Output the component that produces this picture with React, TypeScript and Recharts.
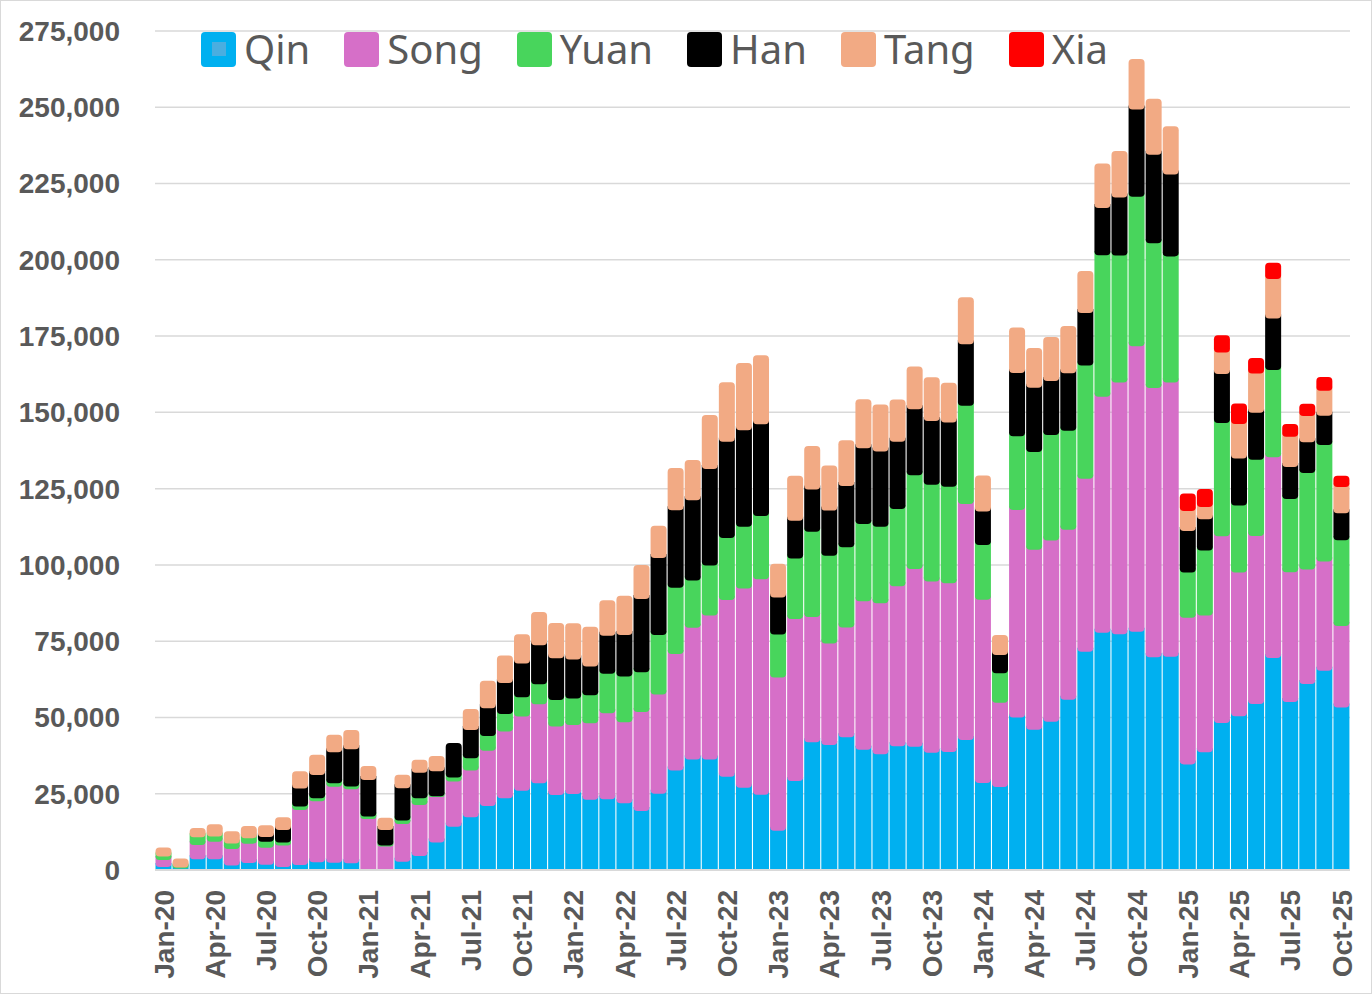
import { BarChart, Bar, XAxis, YAxis, CartesianGrid, Legend } from "recharts";

const months = [
  "Jan-20", "Feb-20", "Mar-20", "Apr-20", "May-20", "Jun-20", "Jul-20", "Aug-20", "Sep-20", "Oct-20", "Nov-20", "Dec-20",
  "Jan-21", "Feb-21", "Mar-21", "Apr-21", "May-21", "Jun-21", "Jul-21", "Aug-21", "Sep-21", "Oct-21", "Nov-21", "Dec-21",
  "Jan-22", "Feb-22", "Mar-22", "Apr-22", "May-22", "Jun-22", "Jul-22", "Aug-22", "Sep-22", "Oct-22", "Nov-22", "Dec-22",
  "Jan-23", "Feb-23", "Mar-23", "Apr-23", "May-23", "Jun-23", "Jul-23", "Aug-23", "Sep-23", "Oct-23", "Nov-23", "Dec-23",
  "Jan-24", "Feb-24", "Mar-24", "Apr-24", "May-24", "Jun-24", "Jul-24", "Aug-24", "Sep-24", "Oct-24", "Nov-24", "Dec-24",
  "Jan-25", "Feb-25", "Mar-25", "Apr-25", "May-25", "Jun-25", "Jul-25", "Aug-25", "Sep-25", "Oct-25",
];

const qin = [
  1000, 500, 3500, 3500, 1500, 2300, 1700, 1000, 1600, 2500, 2400, 2200,
  0, 0, 2700, 4600, 9000, 14200, 17300, 21000, 23500, 26000, 28400, 24600,
  24900, 23000, 23200, 21900, 19300, 25000, 32600, 36200, 36200, 30600, 27000, 24700,
  12900, 29200, 41900, 41000, 43500, 39400, 37900, 40600, 40400, 38400, 38700, 42600,
  28500, 27200, 50000, 46000, 48600, 55800, 71500, 77800, 77300, 78100, 69700, 69900,
  34600, 38600, 48200, 50400, 54400, 69500, 55100, 61000, 65300, 53300,
];

const song = [
  2300, 0, 4700, 5800, 5400, 6300, 5600, 7000, 18100, 20000, 24900, 24300,
  16700, 7700, 12400, 16700, 14900, 14800, 15300, 18100, 21900, 24300, 25900, 22400,
  22600, 25100, 28200, 26500, 32500, 32500, 38200, 43200, 47200, 57900, 65300, 70600,
  50200, 53100, 41000, 33200, 36000, 48700, 49500, 52400, 58300, 56200, 55300, 77400,
  60100, 27600, 68000, 59000, 59400, 55700, 56700, 77300, 82500, 93600, 88300, 89900,
  48100, 44800, 61200, 47100, 55100, 65800, 42500, 37500, 35800, 26700,
];

const yuan = [
  1100, 300, 2500, 1700, 1800, 1800, 2000, 1000, 1100, 1000, 1100, 900,
  800, 300, 1100, 2200, 300, 1300, 4000, 4800, 5700, 6300, 6600, 8700,
  8700, 9200, 12900, 15000, 13000, 19500, 21700, 15500, 16400, 20300, 20200, 20700,
  14100, 19800, 28000, 28800, 26300, 25300, 25100, 25300, 30700, 31700, 31600, 32200,
  17900, 9700, 24200, 32000, 34600, 32500, 37200, 46400, 41600, 49000, 47400, 41300,
  14800, 21300, 37100, 22000, 25000, 28600, 24000, 31600, 38200, 28100,
];

const han = [
  0, 0, 0, 0, 0, 0, 1500, 4100, 5900, 7600, 10200, 12200,
  12000, 5100, 10600, 8400, 8200, 11300, 9300, 9100, 10200, 11100, 12800, 13700,
  12800, 9400, 12500, 13600, 24000, 25300, 25400, 26300, 31600, 31600, 31600, 30100,
  12100, 12400, 13800, 14800, 20100, 24800, 24700, 22100, 21600, 20900, 21100, 20100,
  11000, 6000, 20700, 21100, 17700, 18800, 17200, 15500, 19000, 28600, 29000, 26900,
  13600, 10300, 16100, 15400, 15400, 16900, 10500, 10100, 9600, 8800,
];

const tang = [
  3000, 3000, 3100, 4000, 4000, 4000, 3900, 4200, 5700, 6700, 5700, 6300,
  4600, 4000, 4400, 4200, 5000, 0, 6900, 9000, 9000, 9600, 10900, 11600,
  11900, 13000, 11600, 12900, 11200, 10500, 13900, 13200, 17700, 19500, 22100, 22600,
  11100, 14700, 14300, 14800, 15000, 16100, 15400, 13800, 14000, 14300, 13000, 15400,
  11800, 6500, 14900, 13000, 14400, 15500, 13700, 14600, 15300, 16500, 18400, 15800,
  6600, 4000, 7000, 11300, 12800, 12900, 9900, 8600, 8200, 8600,
];

const xia = [
  0, 0, 0, 0, 0, 0, 0, 0, 0, 0, 0, 0,
  0, 0, 0, 0, 0, 0, 0, 0, 0, 0, 0, 0,
  0, 0, 0, 0, 0, 0, 0, 0, 0, 0, 0, 0,
  0, 0, 0, 0, 0, 0, 0, 0, 0, 0, 0, 0,
  0, 0, 0, 0, 0, 0, 0, 0, 0, 0, 0, 0,
  5700, 5900, 5700, 6700, 5100, 5300, 4200, 4000, 4500, 3700,
];

const seriesNames = ["Qin", "Song", "Yuan", "Han", "Tang", "Xia"];
const seriesColors = ["#00B0F0", "#D66FC8", "#48D55C", "#000000", "#F2AA84", "#FF0000"];
const seriesValues = [qin, song, yuan, han, tang, xia];

const yTicks = [0, 25000, 50000, 75000, 100000, 125000, 150000, 175000, 200000, 225000, 250000, 275000];

const data = months.map((month, i) => {
  const row: Record<string, string | number> = { month };
  seriesNames.forEach((name, k) => {
    row[name] = seriesValues[k][i];
  });
  return row;
});

const axisFont = "'Liberation Sans', Arial, sans-serif";
const textGray = "#595959";

function roundRect(x: number, y: number, w: number, h: number, rt: number, rb: number) {
  const a = Math.min(rt, w / 2, h / 2);
  const b = Math.min(rb, w / 2, h / 2);
  return (
    `M${x},${y + a} Q${x},${y} ${x + a},${y} L${x + w - a},${y} Q${x + w},${y} ${x + w},${y + a} ` +
    `L${x + w},${y + h - b} Q${x + w},${y + h} ${x + w - b},${y + h} L${x + b},${y + h} ` +
    `Q${x},${y + h} ${x},${y + h - b} Z`
  );
}

// lower segment reaches a bit up under the next one, so the rounded bottom
// corners of the upper segment show the colour below instead of white
const makeShape = (k: number) => (props: any) => {
  const { x, y, width, height, fill } = props;
  const idx = props.index ?? months.indexOf(props.payload?.month);
  const v = seriesValues[k][idx];
  if (!v || !height || height <= 0) return <g />;
  let below = 0;
  let above = 0;
  seriesValues.forEach((arr, j) => {
    if (j < k) below += arr[idx];
    if (j > k) above += arr[idx];
  });
  const pxPer = height / v;
  const r = 4;
  const ext = above > 0 ? Math.min(r, above * pxPer) : 0;
  return (
    <path
      d={roundRect(x, y - ext, width, height + ext, above > 0 ? 0 : r, below > 0 ? r : 0)}
      fill={fill}
    />
  );
};

const XTick = ({ x, y, payload }: any) => (
  <text
    transform={`translate(${x},${y}) rotate(-90)`}
    dy="0.36em"
    textAnchor="end"
    fill={textGray}
    fontSize={28}
    fontWeight="bold"
    fontFamily={axisFont}
  >
    {payload.value}
  </text>
);

const LegendBox = () => (
  <div style={{ display: "flex", alignItems: "center", gap: 34, fontFamily: "'Noto Sans', sans-serif", fontSize: 40, color: textGray }}>
    {seriesNames.map((name, k) => (
      <div key={name} style={{ display: "flex", alignItems: "center" }}>
        <div
          style={{
            width: 35,
            height: 35,
            borderRadius: 4,
            background: seriesColors[k],
            marginRight: 8,
            display: "flex",
            alignItems: "center",
            justifyContent: "center",
          }}
        >
          {k === 0 && <div style={{ width: 14, height: 14, background: "#4AAEE0" }} />}
        </div>
        <span style={{ lineHeight: "38px" }}>{name}</span>
      </div>
    ))}
  </div>
);

export default function App() {
  return (
    <div style={{ position: "absolute", left: 0, top: 0, width: 1372, height: 994, boxSizing: "border-box", border: "1px solid #d9d9d9", background: "#fff" }}>
      <style>{"body{margin:0}"}</style>
      <BarChart
        width={1370}
        height={992}
        data={data}
        margin={{ top: 30, right: 21, bottom: 0, left: 0 }}
        barCategoryGap={0.5}
      >
        <CartesianGrid vertical={false} stroke="#d9d9d9" strokeWidth={1.5} />
        <XAxis
          dataKey="month"
          interval={2}
          height={123}
          tickSize={0}
          tickMargin={20}
          tickLine={false}
          axisLine={{ stroke: "#d9d9d9", strokeWidth: 2 }}
          tick={<XTick />}
        />
        <YAxis
          width={154}
          domain={[0, 275000]}
          ticks={yTicks}
          interval={0}
          tickSize={0}
          tickMargin={35}
          tickLine={false}
          axisLine={false}
          tickFormatter={(v: number) => v.toLocaleString("en-US")}
          tick={{ fill: textGray, fontSize: 28, fontWeight: "bold", fontFamily: axisFont }}
        />
        <Legend
          verticalAlign="middle"
          align="center"
          layout="horizontal"
          wrapperStyle={{ left: 200, top: 29, width: 1000 }}
          content={() => <LegendBox />}
        />
        {seriesNames.map((name, k) => (
          <Bar
            key={name}
            dataKey={name}
            stackId="a"
            fill={seriesColors[k]}
            isAnimationActive={false}
            shape={makeShape(k)}
          />
        ))}
      </BarChart>
    </div>
  );
}
